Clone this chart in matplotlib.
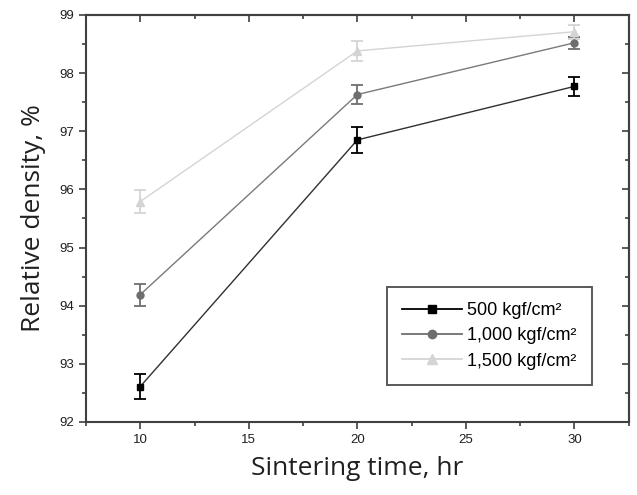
import matplotlib.pyplot as plt
from matplotlib.ticker import MultipleLocator

time_hr = [10, 20, 30]

dens_500 = [92.61, 96.85, 97.77]
err_500 = [0.22, 0.22, 0.17]

dens_1000 = [94.19, 97.63, 98.52]
err_1000 = [0.19, 0.17, 0.10]

dens_1500 = [95.79, 98.38, 98.71]
err_1500 = [0.20, 0.17, 0.12]

labels = ['500 kgf/cm²', '1,000 kgf/cm²', '1,500 kgf/cm²']

plt.rcParams['font.family'] = ['Liberation Sans', 'DejaVu Sans']

fig = plt.figure(figsize=(6.37, 4.95), dpi=100)
ax = fig.add_axes([0.135, 0.1475, 0.852, 0.8225])

series = [
    (dens_500, err_500, 's', '#000000', '#303030'),
    (dens_1000, err_1000, 'o', '#6e6e6e', '#7a7a7a'),
    (dens_1500, err_1500, '^', '#d4d4d4', '#d4d4d4'),
]

for (y, e, m, c, lc), lab in zip(series, labels):
    ax.plot(time_hr, y, '-', color=lc, lw=1.0, zorder=2)
    ax.errorbar(time_hr, y, yerr=e, fmt=m, color=c, ms=6 if m == '^' else 5,
                capsize=4.5, elinewidth=1.3, capthick=1.3, zorder=3)
    # legend proxy
    ax.plot([], [], '-', marker=m, color=c, ms=7 if m == '^' else 6, lw=1.3, label=lab)

ax.set_xlim(7.5, 32.5)
ax.set_ylim(92, 99)
ax.xaxis.set_major_locator(MultipleLocator(5))
ax.xaxis.set_minor_locator(MultipleLocator(2.5))
ax.yaxis.set_major_locator(MultipleLocator(1))
ax.yaxis.set_minor_locator(MultipleLocator(0.5))

for s in ax.spines.values():
    s.set_linewidth(1.5)
    s.set_color('#404040')

ax.tick_params(which='both', direction='out', top=False, right=False, colors='#404040',
               labelcolor='#202020', labelsize=9.5, width=1.2)
ax.tick_params(which='major', length=5)
ax.tick_params(which='minor', length=3)

# inward ticks on the top and right edges
sec_x = ax.secondary_xaxis('top')
sec_x.xaxis.set_major_locator(MultipleLocator(5))
sec_x.xaxis.set_minor_locator(MultipleLocator(2.5))
sec_x.tick_params(which='both', direction='in', labeltop=False, colors='#404040', width=1.2)
sec_x.tick_params(which='major', length=5)
sec_x.tick_params(which='minor', length=3)
sec_x.spines['top'].set_linewidth(1.5)
sec_x.spines['top'].set_color('#404040')
sec_y = ax.secondary_yaxis('right')
sec_y.yaxis.set_major_locator(MultipleLocator(1))
sec_y.yaxis.set_minor_locator(MultipleLocator(0.5))
sec_y.tick_params(which='both', direction='in', labelright=False, colors='#404040', width=1.2)
sec_y.tick_params(which='major', length=5)
sec_y.tick_params(which='minor', length=3)
sec_y.spines['right'].set_linewidth(1.5)
sec_y.spines['right'].set_color('#404040')

ax.set_xlabel('Sintering time, hr', family='Open Sans', fontsize=19, color='#202020', labelpad=7)
ax.set_ylabel('Relative density, %', family='Open Sans', fontsize=19, color='#202020', labelpad=10)

leg = ax.legend(loc='lower right', bbox_to_anchor=(0.932, 0.091), borderaxespad=0,
                fontsize=13, frameon=True, fancybox=False, edgecolor='#202020',
                handlelength=3.3, borderpad=0.85, labelspacing=0.45, handletextpad=0.3)
leg.get_frame().set_linewidth(1.3)

fig.savefig('out.png', dpi=100)
